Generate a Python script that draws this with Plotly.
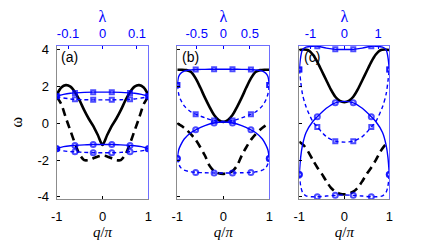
import plotly.graph_objects as go

# ---------------- data ----------------
q_vals = [-1.0, -0.9, -0.8, -0.7, -0.6, -0.5, -0.4, -0.3, -0.2, -0.1, 0.0,
          0.1, 0.2, 0.3, 0.4, 0.5, 0.6, 0.7, 0.8, 0.9, 1.0]

# panel (a) black curves (vs q/pi)
a_solid = [1.55, 1.95, 2.08, 2.0, 1.7, 1.25, 0.72, 0.25, -0.15, -0.65, -1.18,
           -0.65, -0.15, 0.25, 0.72, 1.25, 1.7, 2.0, 2.08, 1.95, 1.55]
a_dash = [1.45, 1.05, 0.3, -0.4, -1.1, -1.7, -2.0, -2.0, -1.9, -1.8, -1.75,
          -1.8, -1.9, -2.0, -2.0, -1.7, -1.1, -0.4, 0.3, 1.05, 1.45]
# panel (b)
b_solid = [2.92, 2.92, 2.9, 2.8, 2.45, 1.95, 1.4, 0.9, 0.45, 0.18, 0.08,
           0.18, 0.45, 0.9, 1.4, 1.95, 2.45, 2.8, 2.9, 2.92, 2.92]
b_dash = [0.0, -0.15, -0.35, -0.6, -0.9, -1.3, -1.75, -2.3, -2.6, -2.72, -2.75,
          -2.72, -2.6, -2.3, -1.75, -1.3, -0.9, -0.6, -0.35, -0.15, 0.0]
# panel (c)
c_solid = [4.0, 4.02, 3.98, 3.75, 3.35, 2.85, 2.35, 1.85, 1.45, 1.22, 1.15,
           1.22, 1.45, 1.85, 2.35, 2.85, 3.35, 3.75, 3.98, 4.02, 4.0]
c_dash = [-1.0, -1.2, -1.55, -2.0, -2.4, -2.75, -3.15, -3.5, -3.72, -3.83, -3.87,
          -3.83, -3.72, -3.5, -3.15, -2.75, -2.4, -2.0, -1.55, -1.2, -1.0]

# blue curves (vs lambda), markers shown only at some samples
lam_a = [-0.133, -0.129, -0.124, -0.113, -0.093, -0.08, -0.053, -0.027, 0.0,
         0.027, 0.053, 0.08, 0.093, 0.113, 0.124, 0.129, 0.133]
lam_b = [-0.866, -0.84, -0.805, -0.736, -0.606, -0.52, -0.346, -0.173, 0.0,
         0.173, 0.346, 0.52, 0.606, 0.736, 0.805, 0.84, 0.866]
lam_c = [-1.33, -1.29, -1.237, -1.13, -0.931, -0.798, -0.532, -0.266, 0.0,
         0.266, 0.532, 0.798, 0.931, 1.13, 1.237, 1.29, 1.33]
marker_on = [1, 0, 0, 0, 0, 1, 0, 1, 0, 1, 0, 1, 0, 0, 0, 0, 1]

a_sq_solid = [1.48, 1.50, 1.53, 1.58, 1.64, 1.66, 1.69, 1.70, 1.70,
              1.70, 1.69, 1.66, 1.64, 1.58, 1.53, 1.50, 1.48]
a_sq_dash = [1.48, 1.45, 1.42, 1.38, 1.33, 1.31, 1.29, 1.28, 1.28,
             1.28, 1.29, 1.31, 1.33, 1.38, 1.42, 1.45, 1.48]
a_ci_solid = [-1.38, -1.35, -1.32, -1.27, -1.22, -1.20, -1.17, -1.15, -1.15,
              -1.15, -1.17, -1.20, -1.22, -1.27, -1.32, -1.35, -1.38]
a_ci_dash = [-1.38, -1.42, -1.46, -1.50, -1.54, -1.55, -1.58, -1.60, -1.60,
             -1.60, -1.58, -1.55, -1.54, -1.50, -1.46, -1.42, -1.38]

b_sq_solid = [2.09, 2.55, 2.72, 2.85, 2.91, 2.93, 2.94, 2.95, 2.95,
              2.95, 2.94, 2.93, 2.91, 2.85, 2.72, 2.55, 2.09]
b_sq_dash = [2.09, 1.6, 1.3, 0.95, 0.62, 0.5, 0.3, 0.15, 0.1,
             0.15, 0.3, 0.5, 0.62, 0.95, 1.3, 1.6, 2.09]
b_ci_solid = [-1.91, -1.45, -1.2, -0.85, -0.5, -0.35, -0.12, 0.02, 0.07,
              0.02, -0.12, -0.35, -0.5, -0.85, -1.2, -1.45, -1.91]
b_ci_dash = [-1.91, -2.2, -2.4, -2.55, -2.64, -2.67, -2.69, -2.7, -2.7,
             -2.7, -2.69, -2.67, -2.64, -2.55, -2.4, -2.2, -1.91]

c_sq_solid = [2.94, 3.6, 4.0, 4.15, 4.2, 4.2, 4.1, 4.03, 4.02,
              4.03, 4.1, 4.2, 4.2, 4.15, 4.0, 3.6, 2.94]
c_sq_dash = [2.94, 2.3, 1.6, 0.9, 0.1, -0.2, -0.72, -0.97, -1.02,
             -0.97, -0.72, -0.2, 0.1, 0.9, 1.6, 2.3, 2.94]
c_ci_solid = [-2.78, -1.85, -1.2, -0.5, 0.1, 0.36, 0.82, 1.12, 1.2,
              1.12, 0.82, 0.36, 0.1, -0.5, -1.2, -1.85, -2.78]
c_ci_dash = [-2.78, -3.4, -3.75, -3.95, -4.0, -4.0, -3.96, -3.92, -3.9,
             -3.92, -3.96, -4.0, -4.0, -3.95, -3.75, -3.4, -2.78]

lam_ticks_a = [-0.1, 0, 0.1]
lam_ticks_b = [-0.5, 0, 0.5]
lam_ticks_c = [-1, 0, 1]
lam_text_a = ["-0.1", "0", "0.1"]
lam_text_b = ["-0.5", "0", "0.5"]
lam_text_c = ["-1", "0", "1"]
lam_max = [0.133, 0.866, 1.33]
panel_labels = ["(a)", "(b)", "(c)"]

# ---------------- style ----------------
BLUE = "rgb(0,0,255)"
AXG = "rgb(140,140,140)"
AXB = "rgb(110,110,255)"
FONT = "Liberation Sans, Arial, sans-serif"
SERIF = "Liberation Serif, DejaVu Serif, serif"
OFF = 8  # default page body margin
W, H = 432 - OFF, 244 - OFF


def dx(px):
    return (px - OFF) / W


def dy(py):
    return 1 - (py - OFF) / H


x_domains = [(dx(56.7), dx(148.3)), (dx(177.3), dx(269.3)), (dx(299.3), dx(389.3))]
y_domain = (dy(199), dy(45.7))
y_range = [-4.12, 4.23]

fig = go.Figure()

panels = [
    (a_solid, a_dash, lam_a, [a_sq_solid, a_sq_dash, a_ci_solid, a_ci_dash], lam_ticks_a, lam_text_a),
    (b_solid, b_dash, lam_b, [b_sq_solid, b_sq_dash, b_ci_solid, b_ci_dash], lam_ticks_b, lam_text_b),
    (c_solid, c_dash, lam_c, [c_sq_solid, c_sq_dash, c_ci_solid, c_ci_dash], lam_ticks_c, lam_text_c),
]

blue_styles = [
    ("solid", "square-open", 4),
    ("4px,3px", "square-open", 4),
    ("solid", "circle-open", 5),
    ("4px,3px", "circle-open", 5),
]

layout = {}
for i, (bs, bd, lam, blues, lt, ltxt) in enumerate(panels):
    xb = 2 * i + 1
    xt = 2 * i + 2
    xb_name = "x" if xb == 1 else f"x{xb}"
    xt_name = f"x{xt}"
    yl_name = "y" if xb == 1 else f"y{xb}"
    yr_name = f"y{xt}"

    # black curves
    fig.add_trace(go.Scatter(x=q_vals, y=bs, mode="lines", xaxis=xb_name, yaxis=yl_name,
                             line=dict(color="black", width=2.6, shape="spline", smoothing=0.7),
                             showlegend=False, hoverinfo="skip"))
    fig.add_trace(go.Scatter(x=q_vals, y=bd, mode="lines", xaxis=xb_name, yaxis=yl_name,
                             line=dict(color="black", width=2.6, dash="8px,5px", shape="spline", smoothing=0.7),
                             showlegend=False, hoverinfo="skip"))
    # blue curves
    for vals, (dash, sym, msz) in zip(blues, blue_styles):
        fig.add_trace(go.Scatter(x=lam, y=vals, mode="lines+markers", xaxis=xt_name, yaxis=yr_name,
                                 line=dict(color=BLUE, width=1.4, dash=dash, shape="spline", smoothing=0.8),
                                 marker=dict(symbol=sym, size=[msz * m for m in marker_on],
                                             color=BLUE, line=dict(color=BLUE, width=2)),
                                 showlegend=False, hoverinfo="skip"))

    xkey_b = "xaxis" if xb == 1 else f"xaxis{xb}"
    xkey_t = f"xaxis{xt}"
    ykey_l = "yaxis" if xb == 1 else f"yaxis{xb}"
    ykey_r = f"yaxis{xt}"

    layout[xkey_b] = dict(domain=list(x_domains[i]), anchor=yl_name, range=[-1, 1], automargin=False,
                          tickvals=[-1, 0, 1], ticktext=["-1", "0", "1"], ticks="inside", ticklen=3,
                          tickcolor="black", showline=True, linecolor=AXG, linewidth=1.2,
                          showgrid=False, zeroline=False, ticklabelstandoff=5,
                          tickfont=dict(family=FONT, size=13, color="black"),
                          title=dict(text="<i>q</i>/<i>π</i>", standoff=1,
                                     font=dict(family=SERIF, size=15, color="black")))
    layout[xkey_t] = dict(overlaying=xb_name, side="top", anchor=yr_name, range=[-lam_max[i], lam_max[i]],
                          automargin=False,
                          tickvals=lt, ticktext=ltxt, ticks="inside", ticklen=3, tickcolor=BLUE,
                          showline=True, linecolor=AXB, linewidth=1, showgrid=False, zeroline=False,
                          ticklabelstandoff=2,
                          tickfont=dict(family=FONT, size=13, color=BLUE),
                          title=dict(text="λ", standoff=17,
                                     font=dict(family=SERIF, size=16, color=BLUE)))
    layout[ykey_l] = dict(domain=list(y_domain), anchor=xb_name, range=y_range, automargin=False,
                          tickvals=[-4, -2, 0, 2, 4], ticktext=["-4", "-2", "0", "2", "4"],
                          ticks="inside", ticklen=3, tickcolor="black",
                          showticklabels=(i == 0), showline=True, linecolor=AXG, linewidth=1.2,
                          showgrid=False, zeroline=False, ticklabelstandoff=4,
                          tickfont=dict(family=FONT, size=13, color="black"))
    if i == 0:
        layout[ykey_l]["title"] = dict(text="ω", standoff=21,
                                       font=dict(family=SERIF, size=16, color="black"))
    layout[ykey_r] = dict(overlaying=yl_name, side="right", anchor=xt_name, range=y_range,
                          automargin=False,
                          showticklabels=False, ticks="", showline=True, linecolor=AXB, linewidth=1,
                          showgrid=False, zeroline=False)

annotations = []
for i in range(3):
    xb = 2 * i + 1
    xb_name = "x" if xb == 1 else f"x{xb}"
    yl_name = "y" if xb == 1 else f"y{xb}"
    annotations.append(dict(text=panel_labels[i], xref=f"{xb_name} domain", yref=f"{yl_name} domain",
                            x=0.03, y=0.99, xanchor="left", yanchor="top", showarrow=False,
                            font=dict(family=FONT, size=14, color="black")))

fig.update_layout(width=W, height=H, margin=dict(l=0, r=0, t=0, b=0),
                  paper_bgcolor="white", plot_bgcolor="white",
                  annotations=annotations, **layout)

fig.write_html("out.html")
